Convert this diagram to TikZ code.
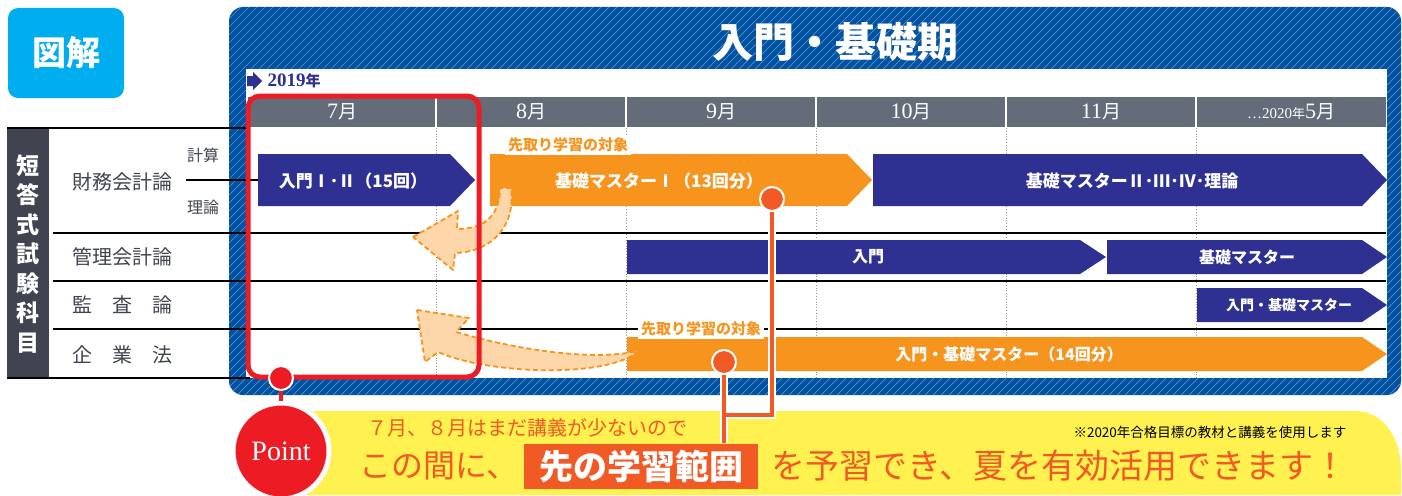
\documentclass[tikz,border=0pt]{standalone}
\usepackage{fontspec}
\setmainfont{Liberation Serif}
\newfontfamily\jp{Noto Sans CJK JP}
\usepackage{tikz}
\usetikzlibrary{positioning}
\definecolor{panelblue}{RGB}{0,82,162}
\definecolor{barnavy}{RGB}{46,49,146}
\definecolor{barorange}{RGB}{247,148,30}
\definecolor{linkorange}{RGB}{241,90,36}
\definecolor{framered}{RGB}{237,28,36}
\definecolor{headgrey}{RGB}{100,108,122}
\definecolor{labelgrey}{RGB}{64,68,80}
\definecolor{zukaiblue}{RGB}{0,174,239}
\definecolor{bannery}{RGB}{255,241,80}
\definecolor{peach}{RGB}{253,214,170}
\tikzstyle{navybar}=[fill=barnavy]
\tikzstyle{orangebar}=[fill=barorange]
\tikzstyle{bigbartext}=[text=white,font=\jp\bfseries\fontsize{17}{17}\selectfont]
\tikzstyle{bartext}=[text=white,font=\jp\bfseries\fontsize{16}{16}\selectfont]
\tikzstyle{smallbartext}=[text=white,font=\jp\bfseries\fontsize{14}{14}\selectfont]
\tikzstyle{month}=[text=white,font=\fontsize{22}{22}\selectfont]
\tikzstyle{rowlabel}=[text=labelgrey,font=\jp\fontsize{20}{20}\selectfont]
\tikzstyle{sublabel}=[text=labelgrey,font=\jp\fontsize{16}{16}\selectfont]
\tikzstyle{rule}=[draw=black,line width=1.3pt]
\tikzstyle{monthsep}=[draw=gray!80,dotted,line width=0.8pt]
\tikzstyle{ahead}=[text=barorange,fill=white,inner sep=3pt,font=\jp\bfseries\fontsize{15}{15}\selectfont]
\tikzstyle{backarrow}=[fill=peach,draw=barorange,line width=1.8pt,dash pattern=on 5pt off 3pt,line join=round]
\tikzstyle{link}=[draw=linkorange,line width=4pt,preaction={draw=white,line width=8pt}]
\tikzstyle{joint}=[circle,fill=linkorange,draw=white,line width=2pt,minimum size=24pt,inner sep=0pt]
\tikzstyle{hatch}=[white,opacity=0.35,line width=0.7pt]
\begin{document}
\begin{tikzpicture}[x=1pt,y=-1pt]
  \useasboundingbox (0,0) rectangle (1402,495);
  \node[fill=zukaiblue,rounded corners=10pt,minimum width=116pt,minimum height=90pt,text=white,font=\jp\bfseries\fontsize{34}{34}\selectfont] (zukai) at (66,53) {図解};

  % blue panel
  \fill[panelblue,rounded corners=14pt] (229,7) rectangle (1401,395);
  \begin{scope}
    \clip[rounded corners=14pt] (229,7) rectangle (1401,395);
    \foreach \k in {-400,-392,...,1180}
      \draw[hatch] (229+\k,395) -- ++(388,-388);
  \end{scope}
  \node[text=white,font=\jp\bfseries\fontsize{41}{41}\selectfont] (title) at (835,42) {入門・基礎期};

  % chart area
  \fill[white] (246,69) rectangle (1387,378);
  \fill[barnavy] (247,76) -- (253,76) -- (253,72) -- (262,81) -- (253,90) -- (253,86) -- (247,86) -- cycle;
  \node[anchor=west,text=barnavy,font=\bfseries\fontsize{19}{19}\selectfont] (year) at (264,81) {2019{\jp\fontsize{15}{15}\selectfont 年}};
  \fill[headgrey] (248,97) rectangle (1386,127);
  \foreach \x in {436,626,816,1006,1196} {
    \draw[white,line width=1.5pt] (\x,97) -- (\x,127);
    \draw[monthsep] (\x,128) -- (\x,378);
  }
  \node[month] (jul) at (342,112) {7{\jp\fontsize{19}{19}\selectfont 月}};
  \node[month] (aug) at (531,112) {8{\jp\fontsize{19}{19}\selectfont 月}};
  \node[month] (sep) at (721,112) {9{\jp\fontsize{19}{19}\selectfont 月}};
  \node[month] (oct) at (911,112) {10{\jp\fontsize{19}{19}\selectfont 月}};
  \node[month] (nov) at (1101,112) {11{\jp\fontsize{19}{19}\selectfont 月}};
  \node[month] (may) at (1291,112) {{\fontsize{15}{15}\selectfont …2020{\jp\fontsize{13}{13}\selectfont 年}}5{\jp\fontsize{19}{19}\selectfont 月}};

  % subjects
  \fill[labelgrey] (7,128) rectangle (49,378);
  \node[text=white,align=center,font=\jp\bfseries\fontsize{23}{29.5}\selectfont] (subjects) at (28,254) {短\\答\\式\\試\\験\\科\\目};
  \draw[rule] (7,128) -- (250,128);
  \draw[rule] (53,233) -- (1386,233);
  \draw[rule] (53,281) -- (1386,281);
  \draw[rule] (53,329) -- (1386,329);
  \draw[rule] (7,378) -- (250,378);
  \draw[rule] (186,180) -- (258,180);
  \node[rowlabel] (fin) at (122,182) {財務会計論};
  \node[sublabel] (calc) at (203,155) {計算};
  \node[sublabel] (theory) at (203,207) {理論};
  \node[rowlabel] (mgmt) at (122,257) {管理会計論};
  \node[rowlabel] (audit) at (122,305) {監　査　論};
  \node[rowlabel] (corp) at (122,355) {企　業　法};

  % bars
  \fill[navybar] (258,154) -- (450,154) -- (475,180) -- (450,206) -- (258,206) -- cycle;
  \node[bigbartext] (finintro) at (353,181) {入門Ⅰ･Ⅱ（15回）};
  \fill[orangebar] (490,154) -- (847,154) -- (872,180) -- (847,206) -- (490,206) -- cycle;
  \node[bigbartext] (finbasic) at (659,181) {基礎マスターⅠ（13回分）};
  \fill[navybar] (873,154) -- (1362,154) -- (1387,180) -- (1362,206) -- (873,206) -- cycle;
  \node[bigbartext] (finrest) at (1132,181) {基礎マスターⅡ･Ⅲ･Ⅳ･理論};
  \node[ahead] (ahead1) at (568,145) {先取り学習の対象};
  \fill[navybar] (627,240) -- (1080,240) -- (1106,257) -- (1080,274) -- (627,274) -- cycle;
  \node[bartext] (mgmtintro) at (868,257) {入門};
  \fill[navybar] (1107,240) -- (1362,240) -- (1387,257) -- (1362,274) -- (1107,274) -- cycle;
  \node[bartext] (mgmtbasic) at (1247,257) {基礎マスター};
  \fill[navybar] (1197,288) -- (1362,288) -- (1387,305) -- (1362,322) -- (1197,322) -- cycle;
  \node[smallbartext] (auditbar) at (1289,305) {入門・基礎マスター};
  \fill[orangebar] (627,337) -- (1362,337) -- (1387,354) -- (1362,371) -- (627,371) -- cycle;
  \node[bartext] (corpbar) at (1009,354) {入門・基礎マスター（14回分）};
  \node[ahead] (ahead2) at (701,329) {先取り学習の対象};

  % arrows back into July / August
  \draw[backarrow] (413,237) -- (458,211) -- (457,229) .. controls (485,229) and (500,215) .. (500,188) -- (511,188) .. controls (516,228) and (490,252) .. (455,253) -- (453,270) -- cycle;
  \draw[backarrow] (417,310) -- (469,318) -- (456,332) .. controls (510,348) and (590,362) .. (638,351) .. controls (610,378) and (490,375) .. (438,352) -- (425,362) -- cycle;
  \node[draw=framered,line width=5pt,rounded corners=12pt,minimum width=231pt,minimum height=281pt] (frame) at (363.5,236.5) {};

  % point banner
  \fill[bannery] (300,411) -- (1355,411) .. controls (1385,411) and (1401,440) .. (1401,470) -- (1401,495) -- (300,495) -- cycle;
  \node[joint] (c1) at (772,199) {};
  \node[joint] (c2) at (724,362) {};
  \node[fill=linkorange,text=white,minimum width=234pt,minimum height=45pt,inner sep=0pt,font=\jp\bfseries\fontsize{34}{34}\selectfont] (hl) at (641,466) {先の学習範囲};
  \coordinate (bend) at (724,415);
  \draw[link] (c1) |- (bend) (c2) -- (c2 |- hl.north);
  \node[circle,fill=framered,draw=white,line width=2pt,minimum size=24pt,inner sep=0pt] (pin) at (281,378) {};
  \node[circle,fill=framered,draw=white,line width=5pt,minimum size=96pt,inner sep=0pt,text=white,font=\fontsize{28}{28}\selectfont] (point) at (281,451) {Point};
  \draw[framered,line width=4pt] (pin) -- (point);
  \node[anchor=west,text=linkorange,font=\jp\fontsize{20}{20}\selectfont] (lead) at (364,428) {７月、８月はまだ講義が少ないので};
  \node[left=2pt of hl,text=linkorange,font=\jp\fontsize{32}{32}\selectfont] (msgl) {この間に、};
  \node[right=10pt of hl,text=linkorange,font=\jp\fontsize{34}{34}\selectfont] (msgr) {を予習でき、夏を有効活用できます！};
  \node[anchor=east,font=\jp\fontsize{13.5}{13.5}\selectfont] (note) at (1350,432) {※2020年合格目標の教材と講義を使用します};
\end{tikzpicture}
\end{document}
